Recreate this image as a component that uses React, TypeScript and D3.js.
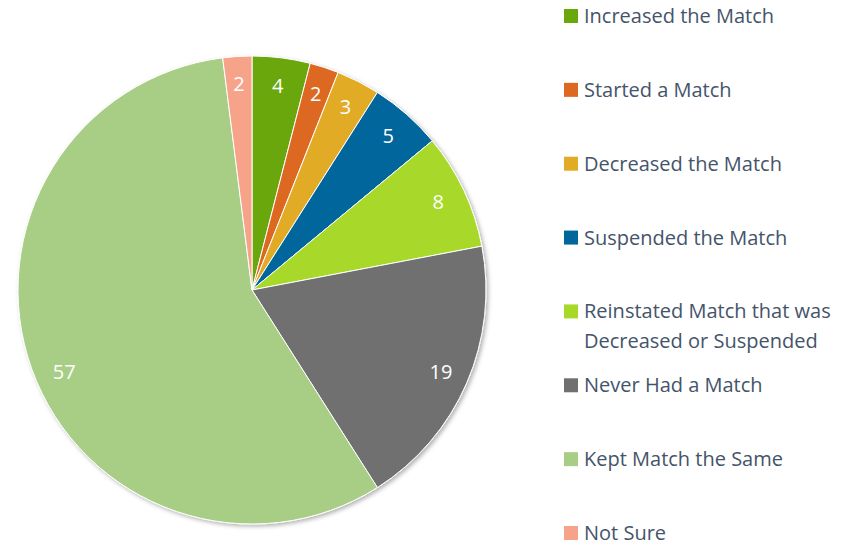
import React, { useEffect, useRef } from 'react';
import * as d3 from 'd3';

const categories = [
  'Increased the Match',
  'Started a Match',
  'Decreased the Match',
  'Suspended the Match',
  'Reinstated Match that was Decreased or Suspended',
  'Never Had a Match',
  'Kept Match the Same',
  'Not Sure',
];
const values = [4, 2, 3, 5, 8, 19, 57, 2];
const colors = ['#6aa70a', '#dd6820', '#e2ab25', '#00669c', '#a8d929', '#707070', '#a8ce86', '#f6a38a'];
const legendLines = [
  ['Increased the Match'],
  ['Started a Match'],
  ['Decreased the Match'],
  ['Suspended the Match'],
  ['Reinstated Match that was', 'Decreased or Suspended'],
  ['Never Had a Match'],
  ['Kept Match the Same'],
  ['Not Sure'],
];

const W = 861;
const H = 545;

export default function App() {
  const ref = useRef<SVGSVGElement>(null);

  useEffect(() => {
    const svg = d3.select(ref.current);
    svg.selectAll('*').remove();

    const cx = 252, cy = 290, radius = 234;
    const font = "'Open Sans', 'Noto Sans', sans-serif";

    const defs = svg.append('defs');
    const f = defs.append('filter').attr('id', 'sh').attr('x', '-10%').attr('y', '-10%').attr('width', '120%').attr('height', '120%');
    f.append('feDropShadow').attr('dx', 2).attr('dy', 2).attr('stdDeviation', 2).attr('flood-color', '#000').attr('flood-opacity', 0.3);

    const data = categories.map((name, i) => ({ name, value: values[i] }));
    const pie = d3.pie<{ name: string; value: number }>().value(d => d.value).sort(null);
    const arcs = pie(data);
    const arc = d3.arc<d3.PieArcDatum<{ name: string; value: number }>>().innerRadius(0).outerRadius(radius);
    const labelArc = d3.arc<d3.PieArcDatum<{ name: string; value: number }>>().innerRadius(radius * 0.88).outerRadius(radius * 0.88);

    const g = svg.append('g').attr('transform', `translate(${cx},${cy})`);
    g.append('g').attr('filter', 'url(#sh)')
      .selectAll('path')
      .data(arcs)
      .enter()
      .append('path')
      .attr('d', arc)
      .attr('fill', (d) => colors[d.index])
      .attr('stroke', '#fff')
      .attr('stroke-width', 1);

    // 57 sits a bit lower in the original (best-fit placement)
    g.selectAll('text.lbl')
      .data(arcs)
      .enter()
      .append('text')
      .attr('class', 'lbl')
      .attr('transform', d => {
        const [x, y] = labelArc.centroid(d);
        return d.index === 6 ? `translate(${x + 6},${y + 12})` : `translate(${x},${y})`;
      })
      .attr('text-anchor', 'middle')
      .attr('dy', '0.35em')
      .attr('fill', '#fff')
      .attr('font-family', font)
      .attr('font-size', 20)
      .text(d => d.data.value);

    const lg = svg.append('g').attr('transform', 'translate(564,0)');
    const row = d3.scaleLinear().domain([0, 7]).range([16, 533]);
    legendLines.forEach((lines, i) => {
      const y = row(i);
      lg.append('rect').attr('x', 0).attr('y', y - 7).attr('width', 14).attr('height', 14).attr('fill', colors[i]);
      lines.forEach((t, j) => {
        lg.append('text')
          .attr('x', 20)
          .attr('y', y + j * 30)
          .attr('dy', '0.35em')
          .attr('fill', '#44546a')
          .attr('font-family', font)
          .attr('font-size', 20)
          .text(t);
      });
    });
  }, []);

  return (
    <svg ref={ref} width={W} height={H} style={{ position: 'absolute', left: 0, top: 0, background: '#fff' }} />
  );
}
